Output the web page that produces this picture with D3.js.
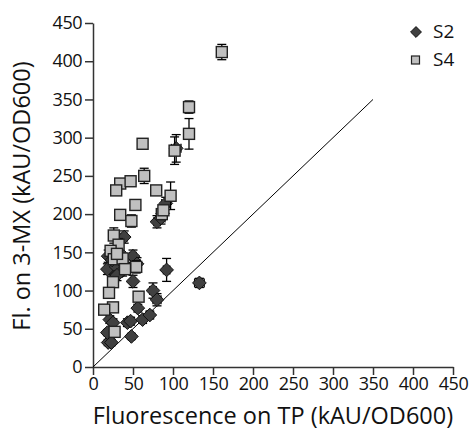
<!DOCTYPE html>
<html><head><meta charset="utf-8">
<script src="https://cdn.jsdelivr.net/npm/d3@7"></script>
<style>body{margin:0;background:#fff}</style>
</head><body><svg id="c" width="471" height="430"></svg>
<script>
const xTicks=[0,50,100,150,200,250,300,350,400,450];
const yTicks=[0,50,100,150,200,250,300,350,400,450];
const seriesNames=["S2","S4"];
const s2X=[19,23,48,21,25,43,47,62,56,71,75,80,92,133,50,50,55,39,80,87,91,104,19,23,18,29,27,37,40,30,33,85,18,24];
const s2Y=[32,32,40,62,58,58,60,62,77,68,100,88,127,110,112,145,135,170,190,201,214,286,145,129,128,131,118,126,133,120,150,195,45,140];
const s2Xe=[3,3,3,3,3,3,4,4,3,4,4,5,4,6,3,4,4,4,4,5,5,6,3,3,3,3,3,3,3,3,3,5,3,3];
const s2Ye=[4,4,4,5,5,5,5,5,5,5,10,8,15,6,8,8,8,8,8,8,8,18,8,7,7,7,7,7,7,7,7,8,4,7];
const s4X=[161,120,120,62,102,64,34,47,29,79,97,53,34,86,48,26,32,22,26,37,54,25,20,57,25,14,27,88,30,40];
const s4Y=[412,340,305,292,283,250,240,243,231,231,224,212,199,200,191,172,160,152,141,142,131,111,97,92,78,75,46,205,148,128];
const s4Xe=[6,5,5,4,6,5,4,4,4,6,4,4,4,5,4,3,4,3,3,4,4,3,3,3,3,3,3,5,3,3];
const s4Ye=[10,8,20,5,18,10,6,6,6,5,18,6,5,7,8,10,8,6,6,6,8,6,6,6,6,5,6,6,6,6];

const svg=d3.select("#c");
const m={l:93,t:23,w:360,h:344};
const x=d3.scaleLinear().domain([0,450]).range([m.l,m.l+m.w]);
const y=d3.scaleLinear().domain([0,450]).range([m.t+m.h,m.t]);
const font="'Open Sans', 'Noto Sans', sans-serif";
const axColor="#333";

const xa=svg.append("g").attr("transform",`translate(0,${m.t+m.h})`)
 .call(d3.axisBottom(x).tickValues(xTicks).tickSize(8).tickPadding(2).tickSizeOuter(0));
const ya=svg.append("g").attr("transform",`translate(${m.l},0)`)
 .call(d3.axisLeft(y).tickValues(yTicks).tickSize(8).tickPadding(3).tickSizeOuter(0));
[xa,ya].forEach(a=>{
 a.selectAll("path,line").attr("stroke",axColor).attr("stroke-width",1.5);
 a.selectAll("text").attr("font-family",font).attr("font-size",18).attr("fill","#111");
});
xa.selectAll("text").attr("letter-spacing",-0.5);
ya.selectAll("text").attr("letter-spacing",-0.5);

// diagonal
svg.append("line").attr("x1",x(0)).attr("y1",y(0)).attr("x2",x(350)).attr("y2",y(350))
 .attr("stroke","#000").attr("stroke-width",1);

function drawSeries(X,Y,Xe,Ye,kind){
 const g=svg.append("g");
 const data=X.map((v,i)=>({x:v,y:Y[i],xe:Xe[i],ye:Ye[i]}));
 const cap=4.5;
 data.forEach(d=>{
  const eb=g.append("g").attr("stroke","#000").attr("stroke-width",1.3);
  eb.append("line").attr("x1",x(d.x-d.xe)).attr("x2",x(d.x+d.xe)).attr("y1",y(d.y)).attr("y2",y(d.y));
  eb.append("line").attr("x1",x(d.x-d.xe)).attr("x2",x(d.x-d.xe)).attr("y1",y(d.y)-cap).attr("y2",y(d.y)+cap);
  eb.append("line").attr("x1",x(d.x+d.xe)).attr("x2",x(d.x+d.xe)).attr("y1",y(d.y)-cap).attr("y2",y(d.y)+cap);
  eb.append("line").attr("x1",x(d.x)).attr("x2",x(d.x)).attr("y1",y(d.y-d.ye)).attr("y2",y(d.y+d.ye));
  eb.append("line").attr("x1",x(d.x)-cap).attr("x2",x(d.x)+cap).attr("y1",y(d.y-d.ye)).attr("y2",y(d.y-d.ye));
  eb.append("line").attr("x1",x(d.x)-cap).attr("x2",x(d.x)+cap).attr("y1",y(d.y+d.ye)).attr("y2",y(d.y+d.ye));
 });
 data.forEach(d=>{
  if(kind==="d"){
   g.append("path").attr("d",d3.symbol(d3.symbolDiamond2,120)()).attr("transform",`translate(${x(d.x)},${y(d.y)})`)
    .attr("fill","#404040").attr("stroke","#111").attr("stroke-width",1);
  } else {
   g.append("rect").attr("x",x(d.x)-5.5).attr("y",y(d.y)-5.5).attr("width",11).attr("height",11)
    .attr("fill","#c0c0c0").attr("stroke","#222").attr("stroke-width",1.4);
  }
 });
}
drawSeries(s2X,s2Y,s2Xe,s2Ye,"d");
drawSeries(s4X,s4Y,s4Xe,s4Ye,"s");

// legend
const lg=svg.append("g");
lg.append("path").attr("d",d3.symbol(d3.symbolDiamond2,75)()).attr("transform","translate(416,32)")
 .attr("fill","#404040").attr("stroke","#111");
lg.append("rect").attr("x",411.5).attr("y",56).attr("width",8).attr("height",8)
 .attr("fill","#c0c0c0").attr("stroke","#222").attr("stroke-width",1.2);
lg.selectAll("text.l").data(seriesNames).join("text").attr("class","l")
 .attr("x",433).attr("y",(d,i)=>38+i*28).text(d=>d)
 .attr("font-family",font).attr("font-size",19).attr("fill","#111");

// axis titles
svg.append("text").attr("x",273).attr("y",424).attr("text-anchor","middle")
 .attr("font-family",font).attr("font-size",23.5).attr("fill","#111").text("Fluorescence on TP (kAU/OD600)");
svg.append("text").attr("transform","translate(30,196) rotate(-90)").attr("text-anchor","middle")
 .attr("font-family",font).attr("font-size",23.5).attr("fill","#111").text("Fl. on 3-MX (kAU/OD600)");
</script></body></html>
